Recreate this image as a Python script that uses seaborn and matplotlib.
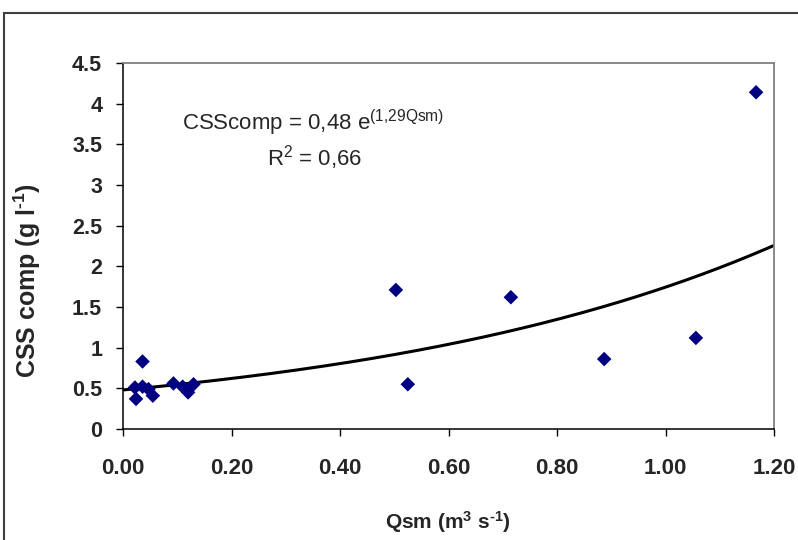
import numpy as np
import pandas as pd
import matplotlib
matplotlib.use("Agg")
import matplotlib.pyplot as plt
import matplotlib.patches as patches
from matplotlib.ticker import FormatStrFormatter, FuncFormatter
import seaborn as sns

qsm = [0.022, 0.024, 0.036, 0.036, 0.047, 0.055, 0.093, 0.110, 0.120, 0.130,
       0.503, 0.525, 0.715, 0.887, 1.056, 1.167]
css = [0.51, 0.37, 0.52, 0.83, 0.49, 0.41, 0.56, 0.52, 0.45, 0.55,
       1.71, 0.55, 1.62, 0.86, 1.12, 4.14]

# exponential trendline from the equation printed on the chart
coef_a = 0.48
coef_b = 1.29

x_ticks = [0.0, 0.2, 0.4, 0.6, 0.8, 1.0, 1.2]
y_ticks = [0, 0.5, 1, 1.5, 2, 2.5, 3, 3.5, 4, 4.5]

sns.set_style("white")
plt.rcParams['font.family'] = ['Liberation Sans', 'DejaVu Sans']
plt.rcParams['mathtext.fontset'] = 'custom'
plt.rcParams['mathtext.rm'] = 'Liberation Sans'
plt.rcParams['mathtext.it'] = 'Liberation Sans:italic'
plt.rcParams['mathtext.bf'] = 'Liberation Sans:bold'

df = pd.DataFrame({'Qsm': qsm, 'CSS': css})
xs = np.linspace(0, 1.2, 200)
trend = pd.DataFrame({'Qsm': xs, 'CSS': coef_a * np.exp(coef_b * xs)})

fig = plt.figure(figsize=(7.98, 5.40), dpi=100)
ax = fig.add_axes([123 / 798, 1 - 429 / 540, (774 - 123) / 798, (429 - 63) / 540])

sns.lineplot(x='Qsm', y='CSS', data=trend, ax=ax, color='black', linewidth=2.2)
sns.scatterplot(x='Qsm', y='CSS', data=df, ax=ax, marker='D', s=55,
                color='#000080', edgecolor='none', zorder=3)

ax.set_xlim(0, 1.2)
ax.set_ylim(0, 4.5)
ax.set_xticks(x_ticks)
ax.set_yticks(y_ticks)
ax.xaxis.set_major_formatter(FormatStrFormatter('%.2f'))
ax.yaxis.set_major_formatter(FuncFormatter(lambda v, p: '%g' % v))
ax.tick_params(axis='x', direction='out', length=5, width=1, color='black',
               labelsize=16, pad=16)
ax.tick_params(axis='y', direction='out', length=5, width=1, color='black',
               labelsize=15.5, pad=10)
ax.tick_params(bottom=True, left=True)
for lab in ax.get_xticklabels() + ax.get_yticklabels():
    lab.set_fontweight('bold')

for s in ['left', 'bottom']:
    ax.spines[s].set_color('black')
    ax.spines[s].set_linewidth(1.1)
for s in ['top', 'right']:
    ax.spines[s].set_visible(True)
    ax.spines[s].set_color('#808080')
    ax.spines[s].set_linewidth(1.3)

ax.set_xlabel('')
ax.set_ylabel('')
fig.text(448 / 798, 1 - 522 / 540, 'Qsm (m$^\\mathbf{3}$ s$^\\mathbf{\u20101}$)',
         ha='center', va='center', fontsize=15, fontweight='bold')
fig.text(27 / 798, 1 - 280 / 540, 'CSS comp (g l$^\\mathbf{\u20101}$)',
         ha='center', va='center', rotation=90, fontsize=18, fontweight='bold')

fig.text(182 / 798, 1 - 130 / 540,
         r'CSScomp = 0,48 e$^\mathregular{(1{,}29Qsm)}$',
         ha='left', va='baseline', fontsize=16)
fig.text(267 / 798, 1 - 166 / 540, r'R$^\mathregular{2}$ = 0,66',
         ha='left', va='baseline', fontsize=16)

# outer chart frame (cut off at right and bottom)
fig.patches.append(patches.Rectangle((4 / 798, -0.1), 1.2, 0.1 + 1 - 13 / 540,
                                     transform=fig.transFigure, fill=False,
                                     edgecolor='#404040', linewidth=1.5))

fig.savefig('out.png', dpi=100)
